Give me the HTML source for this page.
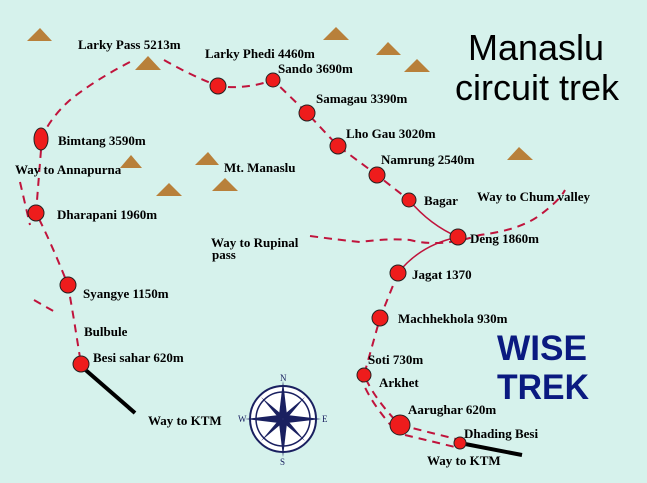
<!DOCTYPE html>
<html><head><meta charset="utf-8"><style>
html,body{margin:0;padding:0;background:#d6f2ec}
svg{display:block}
.t{font-family:"Liberation Serif",serif;font-weight:bold;font-size:13px;fill:#000}
</style></head><body>
<svg width="647" height="483" viewBox="0 0 647 483">
<rect width="647" height="483" fill="#d6f2ec"/>
<g fill="#b8803a">
<polygon points="27,41 40,28 52,41"/>
<polygon points="135,70 148,56 161,70"/>
<polygon points="323,40 336,27 349,40"/>
<polygon points="376,55 388,42 401,55"/>
<polygon points="404,72 417,59 430,72"/>
<polygon points="507,160 519,147 533,160"/>
<polygon points="120,168 131,155 142,168"/>
<polygon points="195,165 208,152 219,165"/>
<polygon points="156,196 169,183 182,196"/>
<polygon points="212,191 225,178 238,191"/>
</g>
<g fill="none" stroke="#c0143c" stroke-width="2" stroke-dasharray="8,6">
<path d="M41,139 Q50,118 70,100 Q95,80 130,62"/>
<path d="M164,60 Q190,75 218,86 Q245,90 273,80 L307,113 L338,146 L377,175 L409,200"/>
<path d="M41,150 L36,213 Q50,240 68,285 L74,320 L81,364"/>
<path d="M20,182 L30,225"/>
<path d="M34,300 L55,312"/>
<path d="M398,273 L380,318 L364,375 Q375,400 400,425"/>
<path d="M360,375 Q368,400 395,430"/>
<path d="M400,425 L460,440 M405,435 L455,447"/>
<path d="M310,236 Q340,240 360,242 Q390,238 410,240 Q440,248 480,235 Q520,230 540,215 Q560,200 565,190"/>
</g>
<g fill="none" stroke="#c0143c" stroke-width="1.5">
<path d="M409,200 Q430,225 458,237"/>
<path d="M458,237 Q420,245 398,273"/>
</g>
<path d="M81,366 L135,413" stroke="#000" stroke-width="4"/>
<path d="M460,443 L522,455" stroke="#000" stroke-width="4"/>
<g fill="#ee1c1c" stroke="#222" stroke-width="1">
<ellipse cx="41" cy="139" rx="7" ry="11"/>
<circle cx="218" cy="86" r="8"/>
<circle cx="273" cy="80" r="7"/>
<circle cx="307" cy="113" r="8"/>
<circle cx="338" cy="146" r="8"/>
<circle cx="377" cy="175" r="8"/>
<circle cx="409" cy="200" r="7"/>
<circle cx="458" cy="237" r="8"/>
<circle cx="398" cy="273" r="8"/>
<circle cx="380" cy="318" r="8"/>
<circle cx="364" cy="375" r="7"/>
<circle cx="400" cy="425" r="10"/>
<circle cx="460" cy="443" r="6"/>
<circle cx="36" cy="213" r="8"/>
<circle cx="68" cy="285" r="8"/>
<circle cx="81" cy="364" r="8"/>
</g>
<g class="t">
<text x="78" y="49" class="t">Larky Pass 5213m</text>
<text x="205" y="58" class="t">Larky Phedi 4460m</text>
<text x="278" y="73" class="t">Sando 3690m</text>
<text x="316" y="103" class="t">Samagau 3390m</text>
<text x="346" y="138" class="t">Lho Gau 3020m</text>
<text x="381" y="164" class="t">Namrung 2540m</text>
<text x="424" y="205" class="t">Bagar</text>
<text x="477" y="201" class="t">Way to Chum valley</text>
<text x="470" y="243" class="t">Deng 1860m</text>
<text x="412" y="279" class="t">Jagat 1370</text>
<text x="398" y="323" class="t">Machhekhola 930m</text>
<text x="368" y="364" class="t">Soti 730m</text>
<text x="379" y="387" class="t">Arkhet</text>
<text x="408" y="414" class="t">Aarughar 620m</text>
<text x="464" y="438" class="t">Dhading Besi</text>
<text x="427" y="465" class="t">Way to KTM</text>
<text x="58" y="145" class="t">Bimtang 3590m</text>
<text x="15" y="174" class="t">Way to Annapurna</text>
<text x="224" y="172" class="t">Mt. Manaslu</text>
<text x="57" y="219" class="t">Dharapani 1960m</text>
<text x="211" y="247" class="t">Way to Rupinal</text>
<text x="212" y="259" class="t">pass</text>
<text x="83" y="298" class="t">Syangye 1150m</text>
<text x="84" y="336" class="t">Bulbule</text>
<text x="93" y="362" class="t">Besi sahar 620m</text>
<text x="148" y="425" class="t">Way to KTM</text>
</g>
<g font-family="Liberation Sans,sans-serif" font-size="36" fill="#000">
<text x="468" y="60">Manaslu</text>
<text x="455" y="100">circuit trek</text>
</g>
<g font-family="Liberation Sans,sans-serif" font-size="35" font-weight="bold" fill="#0a1a80" textLength="90">
<text x="497" y="360" textLength="90" lengthAdjust="spacingAndGlyphs">WISE</text>
<text x="497" y="399" textLength="92" lengthAdjust="spacingAndGlyphs">TREK</text>
</g>
<g transform="translate(283,419)">
<circle r="33" fill="#fff" stroke="#1a2060" stroke-width="2"/>
<circle r="27" fill="none" stroke="#1a2060" stroke-width="1.5"/>
<g fill="#1a2060">
<polygon points="0,-38 4,-4 0,0 -4,-4"/>
<polygon points="0,38 4,4 0,0 -4,4"/>
<polygon points="-38,0 -4,-4 0,0 -4,4"/>
<polygon points="38,0 4,-4 0,0 4,4"/>
<polygon points="22,-22 3,-6 0,0 6,-3"/>
<polygon points="-22,22 -3,6 0,0 -6,3"/>
<polygon points="22,22 6,3 0,0 3,6"/>
<polygon points="-22,-22 -6,-3 0,0 -3,-6"/>
</g>
<g font-family="Liberation Serif,serif" font-size="9" fill="#1a2060">
<text x="-3" y="-38">N</text><text x="-3" y="46">S</text><text x="-45" y="3">W</text><text x="39" y="3">E</text>
</g>
</g>
</svg>
</body></html>
